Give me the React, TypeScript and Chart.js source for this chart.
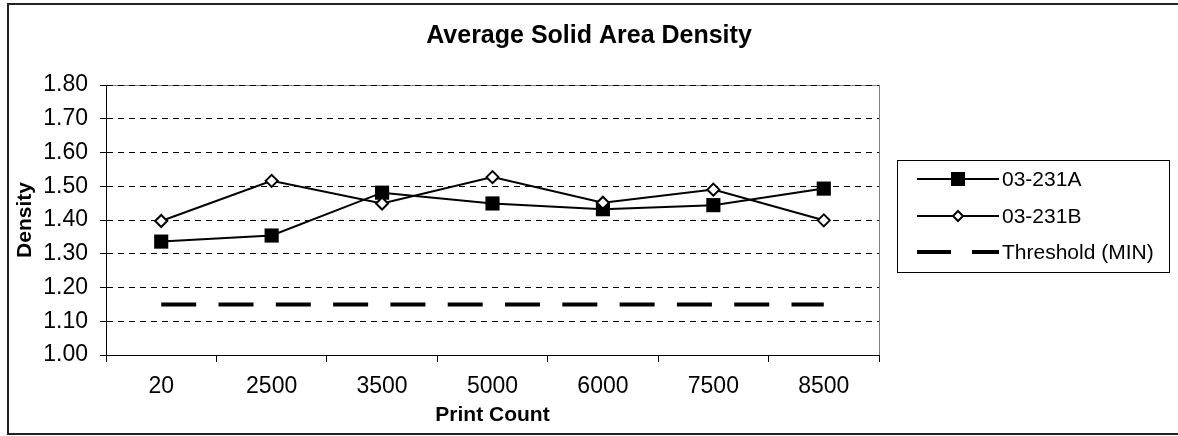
import React, { useEffect, useRef } from 'react';
import { Chart, registerables } from 'chart.js';

Chart.register(...registerables);

// ---- data ----
const categories = ['20', '2500', '3500', '5000', '6000', '7500', '8500'];
const seriesA = [1.336, 1.354, 1.481, 1.449, 1.432, 1.444, 1.493];
const seriesB = [1.397, 1.516, 1.449, 1.527, 1.451, 1.49, 1.399];
const thresholdMin = [1.15, 1.15, 1.15, 1.15, 1.15, 1.15, 1.15];
const seriesNames = ['03-231A', '03-231B', 'Threshold (MIN)'];
const yMin = 1.0;
const yMax = 1.8;
const yStep = 0.1;
const chartTitle = 'Average Solid Area Density';
const xTitle = 'Print Count';
const yTitle = 'Density';

const FONT = "'Liberation Sans', Arial, sans-serif";

const framePlugin = {
  id: 'frame',
  beforeDraw(chart: any) {
    const { ctx, chartArea } = chart;
    ctx.save();
    ctx.fillStyle = '#ffffff';
    ctx.fillRect(0, 0, chart.width, chart.height);
    // outer border
    ctx.strokeStyle = '#222222';
    ctx.lineWidth = 2;
    ctx.strokeRect(8, 4, chart.width + 10, 430);
    // plot area border
    ctx.strokeStyle = '#808080';
    ctx.lineWidth = 1;
    ctx.strokeRect(
      Math.round(chartArea.left) + 0.5,
      Math.round(chartArea.top) + 0.5,
      Math.round(chartArea.right - chartArea.left),
      Math.round(chartArea.bottom - chartArea.top)
    );
    // chart title, centred on the whole chart
    ctx.fillStyle = '#000000';
    ctx.font = `bold 25px ${FONT}`;
    ctx.textAlign = 'center';
    ctx.textBaseline = 'middle';
    ctx.fillText(chartTitle, chart.width / 2, 36);
    ctx.restore();
  },
};

const legendPlugin = {
  id: 'customLegend',
  afterDraw(chart: any) {
    const { ctx } = chart;
    const ds = chart.data.datasets;
    const boxX = 897.5, boxY = 160.5, boxW = 272, boxH = 112;
    ctx.save();
    ctx.strokeStyle = '#000000';
    ctx.lineWidth = 1;
    ctx.strokeRect(boxX, boxY, boxW, boxH);
    const rows = [179, 216, 252];
    const x0 = 917, x1 = 999, mid = 958;
    ds.forEach((d: any, i: number) => {
      const y = rows[i];
      ctx.strokeStyle = '#000000';
      if (d.borderDash && d.borderDash.length) {
        ctx.lineWidth = d.borderWidth;
        ctx.beginPath();
        ctx.moveTo(x0, y);
        ctx.lineTo(951, y);
        ctx.moveTo(972, y);
        ctx.lineTo(x1, y);
        ctx.stroke();
      } else {
        ctx.lineWidth = d.borderWidth;
        ctx.beginPath();
        ctx.moveTo(x0, y);
        ctx.lineTo(x1, y);
        ctx.stroke();
        if (d.pointStyle === 'rect') {
          ctx.fillStyle = '#000000';
          ctx.fillRect(mid - 7, y - 7, 14, 14);
        } else if (d.pointStyle === 'rectRot') {
          ctx.fillStyle = '#ffffff';
          ctx.lineWidth = 2;
          ctx.beginPath();
          ctx.moveTo(mid, y - 5);
          ctx.lineTo(mid + 5, y);
          ctx.lineTo(mid, y + 5);
          ctx.lineTo(mid - 5, y);
          ctx.closePath();
          ctx.fill();
          ctx.stroke();
        }
      }
      ctx.fillStyle = '#000000';
      ctx.font = `21px ${FONT}`;
      ctx.textAlign = 'left';
      ctx.textBaseline = 'middle';
      ctx.fillText(d.label, 1002, y + 1);
    });
    ctx.restore();
  },
};

export default function App() {
  const canvasRef = useRef<HTMLCanvasElement | null>(null);

  useEffect(() => {
    const canvas = canvasRef.current;
    if (!canvas) return;
    const chart = new Chart(canvas, {
      type: 'line',
      data: {
        labels: categories,
        datasets: [
          {
            label: seriesNames[0],
            data: seriesA,
            borderColor: '#000000',
            backgroundColor: '#000000',
            borderWidth: 2,
            pointStyle: 'rect',
            pointRadius: 10,
            pointBorderWidth: 0,
            pointBackgroundColor: '#000000',
            tension: 0,
            order: 1,
          },
          {
            label: seriesNames[1],
            data: seriesB,
            borderColor: '#000000',
            backgroundColor: '#ffffff',
            borderWidth: 2,
            pointStyle: 'rectRot',
            pointRadius: 6,
            pointBorderWidth: 2,
            pointBackgroundColor: '#ffffff',
            pointBorderColor: '#000000',
            tension: 0,
            order: 0,
          },
          {
            label: seriesNames[2],
            data: thresholdMin,
            borderColor: '#000000',
            borderWidth: 4,
            borderDash: [35, 22.3],
            borderCapStyle: 'butt',
            pointRadius: 0,
            tension: 0,
            order: 2,
          },
        ],
      },
      options: {
        responsive: false,
        animation: false,
        devicePixelRatio: 1,
        layout: { padding: { left: 0, right: 299, top: 85, bottom: 0 } },
        plugins: {
          legend: { display: false },
          tooltip: { enabled: false },
          title: { display: false },
        },
        scales: {
          x: {
            type: 'category',
            offset: true,
            afterFit: (scale: any) => {
              scale.height = 81;
            },
            grid: {
              offset: true,
              drawOnChartArea: false,
              drawTicks: true,
              tickLength: 7,
              color: '#000000',
            },
            border: { display: true, color: '#000000', width: 1 },
            ticks: {
              color: '#000000',
              font: { family: FONT, size: 23 },
              padding: 11,
              autoSkip: false,
              maxRotation: 0,
            },
            title: {
              display: true,
              text: xTitle,
              color: '#000000',
              font: { family: FONT, size: 21, weight: 'bold' },
              padding: { top: 0, bottom: 8 },
            },
          },
          y: {
            min: yMin,
            max: yMax,
            afterFit: (scale: any) => {
              scale.width = 106;
            },
            grid: {
              color: '#000000',
              tickLength: 6,
              tickBorderDash: [],
              drawTicks: true,
            },
            border: { display: true, color: '#000000', width: 1, dash: [6, 5] },
            ticks: {
              stepSize: yStep,
              color: '#000000',
              font: { family: FONT, size: 23 },
              padding: 12,
              callback: (v: any) => Number(v).toFixed(2),
            },
            title: {
              display: true,
              text: yTitle,
              color: '#000000',
              font: { family: FONT, size: 21, weight: 'bold' },
              padding: { top: 13, bottom: 0 },
            },
          },
        },
      },
      plugins: [framePlugin, legendPlugin],
    } as any);
    return () => chart.destroy();
  }, []);

  return (
    <div style={{ position: 'absolute', left: 0, top: 0, width: 1178, height: 436 }}>
      <canvas ref={canvasRef} width={1178} height={436} style={{ width: 1178, height: 436, display: 'block' }} />
    </div>
  );
}
